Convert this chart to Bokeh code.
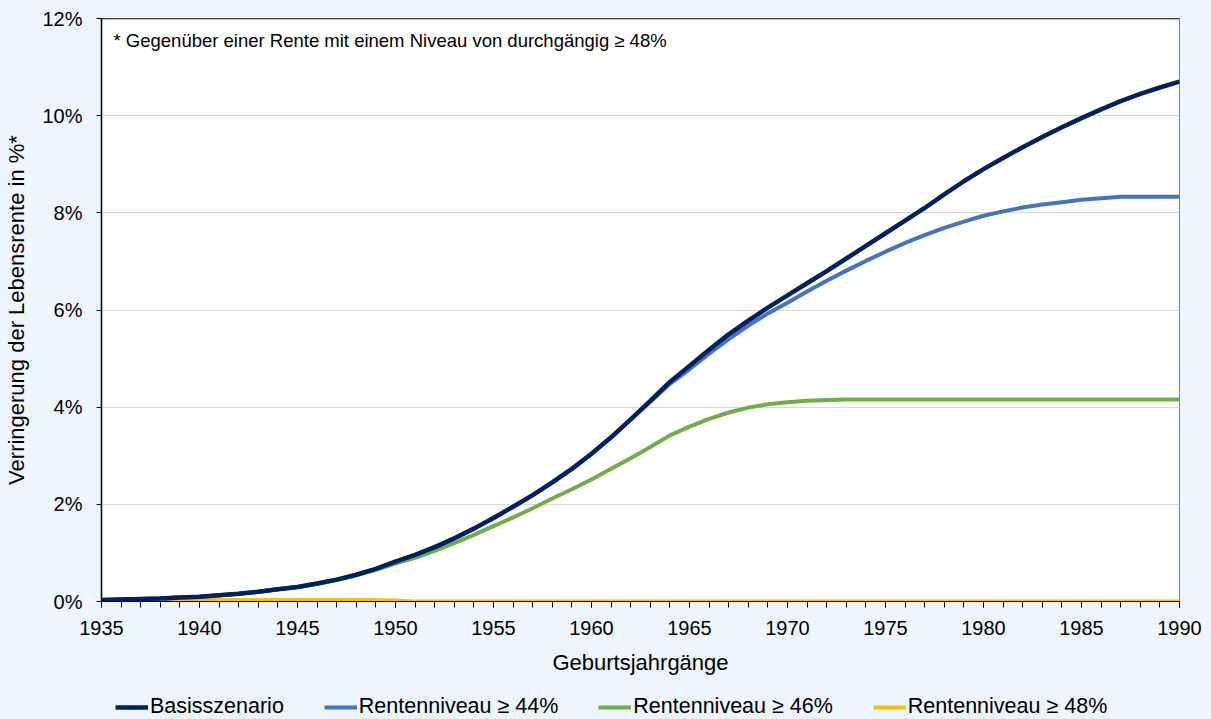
from bokeh.plotting import figure
from bokeh.layouts import column
from bokeh.models import (Range1d, FixedTicker, Legend, LegendItem, Label, Span)
from bokeh.embed import file_html
from bokeh.resources import INLINE

# ---- data ----
years = list(range(1935, 1991))

basis = [0.03, 0.04, 0.05, 0.06, 0.08, 0.10, 0.13, 0.16, 0.20, 0.25,
         0.30, 0.37, 0.45, 0.55, 0.67, 0.82, 0.96, 1.12, 1.30, 1.50,
         1.72, 1.95, 2.19, 2.45, 2.73, 3.04, 3.38, 3.75, 4.13, 4.52,
         4.85, 5.18, 5.50, 5.78, 6.05, 6.30, 6.55, 6.80, 7.06, 7.32,
         7.58, 7.84, 8.10, 8.38, 8.65, 8.90, 9.13, 9.35, 9.56, 9.76,
         9.95, 10.13, 10.30, 10.45, 10.58, 10.70]

niveau44 = [0.03, 0.04, 0.05, 0.06, 0.08, 0.10, 0.13, 0.16, 0.20, 0.25,
            0.30, 0.37, 0.45, 0.55, 0.67, 0.82, 0.96, 1.12, 1.30, 1.50,
            1.72, 1.95, 2.19, 2.45, 2.73, 3.04, 3.38, 3.75, 4.11, 4.48,
            4.78, 5.10, 5.40, 5.68, 5.93, 6.15, 6.38, 6.60, 6.81, 7.01,
            7.20, 7.38, 7.54, 7.69, 7.82, 7.94, 8.03, 8.11, 8.17, 8.22,
            8.27, 8.30, 8.33, 8.33, 8.33, 8.33]

niveau46 = [0.03, 0.04, 0.05, 0.06, 0.08, 0.10, 0.13, 0.16, 0.20, 0.25,
            0.30, 0.36, 0.44, 0.54, 0.65, 0.78, 0.90, 1.04, 1.20, 1.37,
            1.55, 1.73, 1.92, 2.12, 2.31, 2.51, 2.73, 2.95, 3.18, 3.42,
            3.60, 3.76, 3.89, 3.99, 4.06, 4.10, 4.13, 4.15, 4.16, 4.16,
            4.16, 4.16, 4.16, 4.16, 4.16, 4.16, 4.16, 4.16, 4.16, 4.16,
            4.16, 4.16, 4.16, 4.16, 4.16, 4.16]

niveau48 = [0.02, 0.02, 0.03, 0.03, 0.03, 0.03, 0.03, 0.03, 0.03, 0.03,
            0.03, 0.03, 0.03, 0.03, 0.03, 0.02, 0.0, 0.0, 0.0, 0.0,
            0.0, 0.0, 0.0, 0.0, 0.0, 0.0, 0.0, 0.0, 0.0, 0.0,
            0.0, 0.0, 0.0, 0.0, 0.0, 0.0, 0.0, 0.0, 0.0, 0.0,
            0.0, 0.0, 0.0, 0.0, 0.0, 0.0, 0.0, 0.0, 0.0, 0.0,
            0.0, 0.0, 0.0, 0.0, 0.0, 0.0]

series_names = ["Basisszenario", "Rentenniveau \u2265 44%",
                "Rentenniveau \u2265 46%", "Rentenniveau \u2265 48%"]
series_colors = ["#002060", "#4472C4", "#70AD47", "#FFC000"]
series_values = [basis, niveau44, niveau46, niveau48]

x_ticks = list(range(1935, 1991, 5))
y_ticks = [0, 2, 4, 6, 8, 10, 12]
y_tick_labels = ["0%", "2%", "4%", "6%", "8%", "10%", "12%"]

x_title = "Geburtsjahrg\u00e4nge"
y_title = "Verringerung der Lebensrente in %*"
note = "* Gegen\u00fcber einer Rente mit einem Niveau von durchg\u00e4ngig \u2265 48%"

# ---- main figure ----
BG = "#EEF5FC"
FONT = "Liberation Sans"
widths = [4.5, 4, 4, 4]

p = figure(width=1211, height=690, output_backend="svg", toolbar_location=None,
           x_range=Range1d(1935, 1990), y_range=Range1d(0, 12),
           min_border_left=101, min_border_right=32, min_border_top=18,
           min_border_bottom=89)
p.background_fill_color = "white"
p.border_fill_color = BG
p.outline_line_color = "#808080"
p.outline_line_width = 1

# lines (drawn bottom to top)
for i in [3, 2, 1, 0]:
    p.line(years, series_values[i], line_color=series_colors[i], line_width=widths[i])

p.add_layout(Span(location=12, dimension="width", line_color="black", line_width=1.5))

# grid
p.xgrid.visible = False
p.ygrid.ticker = FixedTicker(ticks=y_ticks)
p.ygrid.grid_line_color = "#D9D9D9"
p.ygrid.grid_line_width = 1

# x axis
xa = p.xaxis[0]
xa.ticker = FixedTicker(ticks=x_ticks, minor_ticks=years)
xa.axis_line_color = "black"
xa.major_tick_line_color = "black"
xa.minor_tick_line_color = "black"
xa.major_tick_in = 0
xa.major_tick_out = 6
xa.minor_tick_in = 0
xa.minor_tick_out = 6
xa.major_label_text_font = FONT
xa.major_label_text_font_size = "20px"
xa.major_label_text_color = "black"
xa.major_label_standoff = 13
xa.axis_label = x_title
xa.axis_label_text_font = FONT
xa.axis_label_text_font_size = "22px"
xa.axis_label_text_font_style = "normal"
xa.axis_label_text_color = "black"
xa.axis_label_standoff = 12

# y axis
ya = p.yaxis[0]
ya.ticker = FixedTicker(ticks=y_ticks)
ya.major_label_overrides = {t: l for t, l in zip(y_ticks, y_tick_labels)}
ya.axis_line_color = "black"
ya.axis_line_width = 1.5
ya.major_tick_line_color = "black"
ya.major_tick_in = 0
ya.major_tick_out = 5
ya.minor_tick_line_color = None
ya.major_label_text_font = FONT
ya.major_label_text_font_size = "20px"
ya.major_label_text_color = "black"
ya.major_label_standoff = 14
ya.axis_label = y_title
ya.axis_label_text_font = FONT
ya.axis_label_text_font_size = "22px"
ya.axis_label_text_font_style = "normal"
ya.axis_label_text_color = "black"
ya.axis_label_standoff = 10

# note
p.add_layout(Label(x=12, y=561, x_units="screen", y_units="screen", text=note,
                   text_font=FONT, text_font_size="18.5px", text_color="black",
                   text_baseline="middle"))

# ---- legend strip (separate figure so it is not clipped) ----
pl = figure(width=1211, height=29, output_backend="svg", toolbar_location=None,
            x_range=Range1d(0, 1), y_range=Range1d(0, 1),
            min_border=0, min_border_left=0, min_border_right=0,
            min_border_top=0, min_border_bottom=0)
pl.axis.visible = False
pl.grid.visible = False
pl.background_fill_color = BG
pl.border_fill_color = BG
pl.outline_line_color = None

items = []
for i in range(4):
    r = pl.line(years, series_values[i], line_color=series_colors[i], line_width=widths[i])
    items.append(LegendItem(label=series_names[i], renderers=[r]))

legend = Legend(items=items, orientation="horizontal", location=(14, 0),
                background_fill_alpha=0, border_line_color=None,
                label_text_font=FONT, label_text_font_size="21.5px",
                label_text_color="black", glyph_width=33, glyph_height=20,
                label_standoff=2, spacing=40, padding=0, margin=0,
                label_height=20)
pl.add_layout(legend, "center")

layout = column(p, pl, spacing=0)

html = file_html(layout, INLINE)
html = html.replace("<head>", "<head><style>body{background:%s;}</style>" % BG, 1)
open("out.html", "w").write(html)
